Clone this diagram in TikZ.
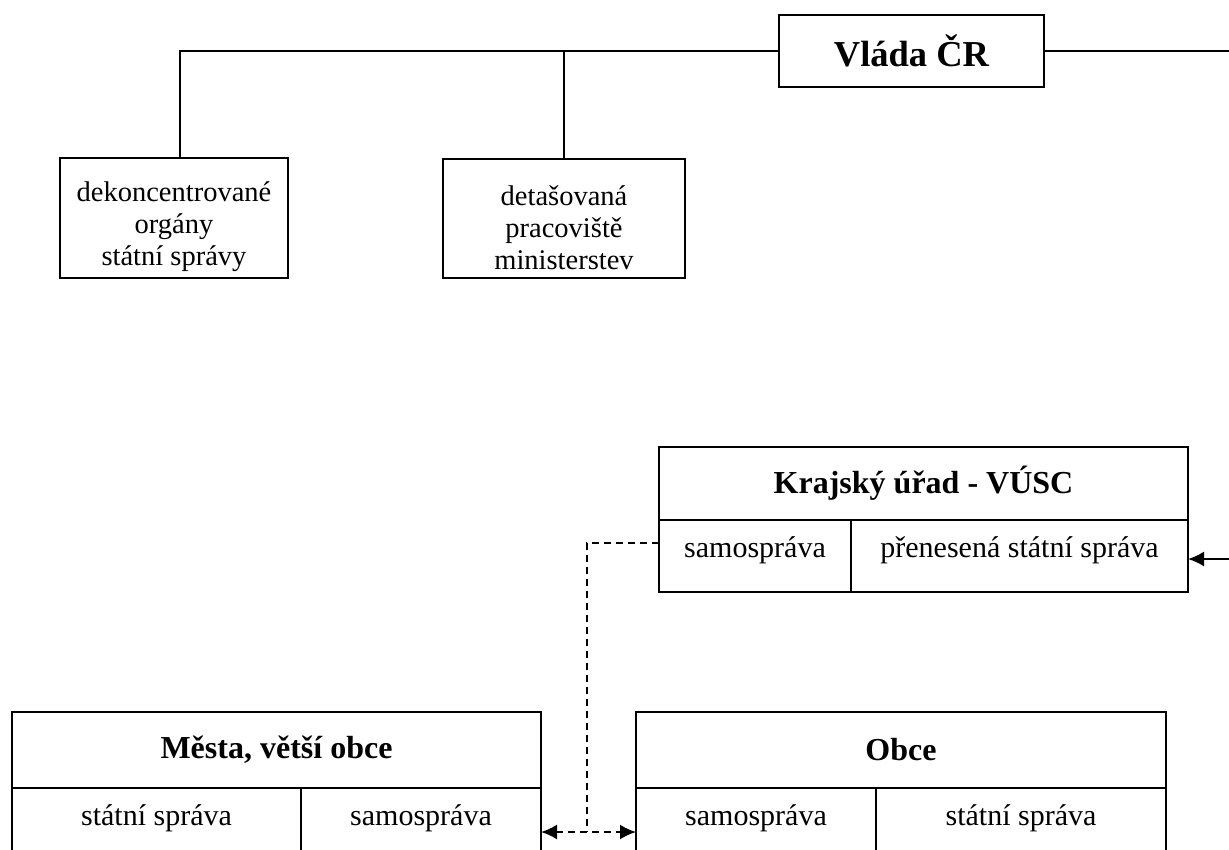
\documentclass[tikz,border=0pt]{standalone}
\usepackage{fontspec}
\setmainfont{Liberation Serif}
\usetikzlibrary{arrows.meta}

\begin{document}
\begin{tikzpicture}[x=1pt, y=-1pt, line width=2pt, >={Latex[length=16pt, width=15pt]},
  box/.style={draw, rectangle, align=center, inner sep=0pt, font=\fontsize{28.5}{32}\selectfont},
  head/.style={draw, rectangle, inner sep=0pt, outer sep=0pt, anchor=north west, font=\fontsize{32}{36}\selectfont\bfseries},
  cell/.style={draw, rectangle, inner sep=0pt, outer sep=0pt, anchor=north west, minimum height=72pt, text height=21pt, text depth=19pt, font=\fontsize{30}{32}\selectfont},
  link/.style={dash pattern=on 7pt off 5pt}]
  \clip (0,0) rectangle (1229,849);
  \node[box, minimum width=265pt, minimum height=72pt, font=\fontsize{36.5}{40}\selectfont\bfseries] (vlada) at (911.5,51) {Vláda ČR};
  \node[box, minimum width=228pt, minimum height=120pt] (dek) at (174,218) {\rule{0pt}{38pt}dekoncentrované\\orgány\\státní správy};
  \node[box, minimum width=242pt, minimum height=119pt] (det) at (564,218.5) {\rule{0pt}{38pt}detašovaná\\pracoviště\\ministerstev};
  \node[head, minimum width=529pt, minimum height=73pt] (kraj) at (659,447) {Krajský úřad - VÚSC};
  \node[cell, minimum width=192pt] (ks) at (kraj.south west) {samospráva};
  \node[cell, minimum width=337pt] (kp) at (ks.north east) {přenesená státní správa};
  \node[head, minimum width=529pt, minimum height=76pt] (mesta) at (12,712) {Města, větší obce};
  \node[cell, minimum width=289pt] (mst) at (mesta.south west) {státní správa};
  \node[cell, minimum width=240pt] (msa) at (mst.north east) {samospráva};
  \node[head, minimum width=530pt, minimum height=76pt] (obce) at (636,712) {Obce};
  \node[cell, minimum width=240pt] (osa) at (obce.south west) {samospráva};
  \node[cell, minimum width=290pt] (ost) at (osa.north east) {státní správa};
  \coordinate (rim) at (1229,559);
  \coordinate (kink) at (587,543);
  \coordinate (foot) at (587,832);
  \draw (vlada.west) -| ([xshift=6pt]dek.north);
  \draw (det.north) -- (det.north |- vlada.west);
  \draw (vlada.east) -- (vlada.east -| rim);
  \draw[->] (rim) -- (kp.east |- rim);
  \draw[link] (ks.west |- kink) -- (kink) -- (foot);
  \draw[link, <->] (msa.east |- foot) -- (osa.west |- foot);
\end{tikzpicture}
\end{document}
